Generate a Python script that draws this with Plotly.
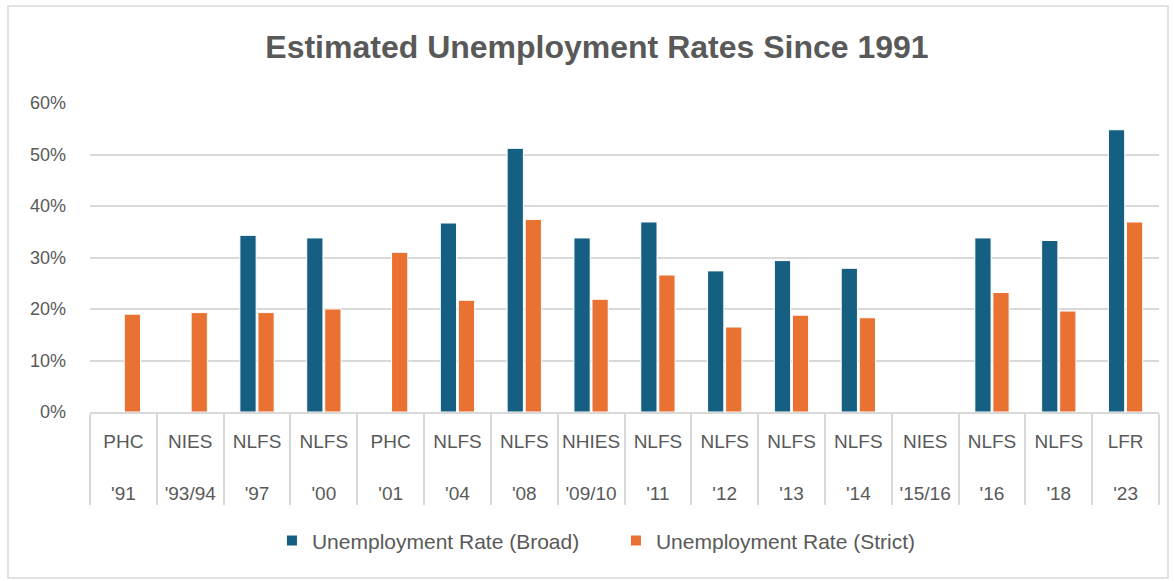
import plotly.graph_objects as go

surveys = ["PHC", "NIES", "NLFS", "NLFS", "PHC", "NLFS", "NLFS", "NHIES", "NLFS",
           "NLFS", "NLFS", "NLFS", "NIES", "NLFS", "NLFS", "LFR"]
years = ["'91", "'93/94", "'97", "'00", "'01", "'04", "'08", "'09/10", "'11",
         "'12", "'13", "'14", "'15/16", "'16", "'18", "'23"]
broad = [None, None, 0.343, 0.338, None, 0.367, 0.512, 0.338, 0.369,
         0.274, 0.294, 0.279, None, 0.338, 0.333, 0.548]
strict = [0.190, 0.193, 0.193, 0.200, 0.310, 0.217, 0.374, 0.219, 0.266,
          0.165, 0.188, 0.183, None, 0.232, 0.196, 0.369]

BLUE = "#156082"
ORANGE = "#E97132"
GREY = "#595959"
FONT = "Liberation Sans, Arial, sans-serif"

LBL = "<span style='font-size:19px'>{}</span>"
# survey row gets an extra blank line so the year row sits lower
inner = [LBL.format(s) + "<br>\u00a0" for s in surveys]
outer = [LBL.format(y) for y in years]

fig = go.Figure()
fig.add_trace(go.Bar(x=[outer, inner], y=broad, name="Unemployment Rate (Broad)",
                     marker=dict(color=BLUE, line=dict(color="white", width=1))))
fig.add_trace(go.Bar(x=[outer, inner], y=strict, name="Unemployment Rate (Strict)",
                     marker=dict(color=ORANGE, line=dict(color="white", width=1))))

fig.update_layout(
    width=1174, height=581,
    margin=dict(l=90, r=15, t=103, b=169),
    paper_bgcolor="white", plot_bgcolor="white",
    barmode="group", bargap=0.46, bargroupgap=0.1,
    font=dict(family=FONT, color=GREY),
    title=dict(text="<b>Estimated Unemployment Rates Since 1991</b>",
               font=dict(size=32, color=GREY, family=FONT),
               x=0.5085, xref="container", xanchor="center",
               y=0.919, yref="container", yanchor="middle"),
    legend=dict(orientation="h", x=0.492, xanchor="center", y=-0.417, yanchor="middle",
                font=dict(size=21, color=GREY), itemsizing="constant",
                traceorder="normal", entrywidth=299),
    showlegend=True,
)
fig.update_yaxes(range=[0, 0.6], dtick=0.1, tickformat=".0%",
                 showgrid=True, gridcolor="#D9D9D9", gridwidth=1.5,
                 zeroline=False, showline=False,
                 tickfont=dict(size=18, color=GREY), ticklabelstandoff=23)
fig.update_xaxes(type="multicategory", showline=True, linecolor="#D9D9D9", linewidth=1.5,
                 showdividers=True, dividercolor="#D9D9D9", dividerwidth=1.5,
                 tickfont=dict(size=25, color=GREY), ticks="", ticklabelstandoff=4)

fig.add_shape(type="rect", xref="paper", yref="paper",
              x0=(8 - 90) / 1069, x1=(1168 - 90) / 1069,
              y0=(412 - 578) / 309, y1=(412 - 6) / 309,
              line=dict(color="#D9D9D9", width=1.5), fillcolor="rgba(0,0,0,0)", layer="below")

fig.write_html("out.html")
